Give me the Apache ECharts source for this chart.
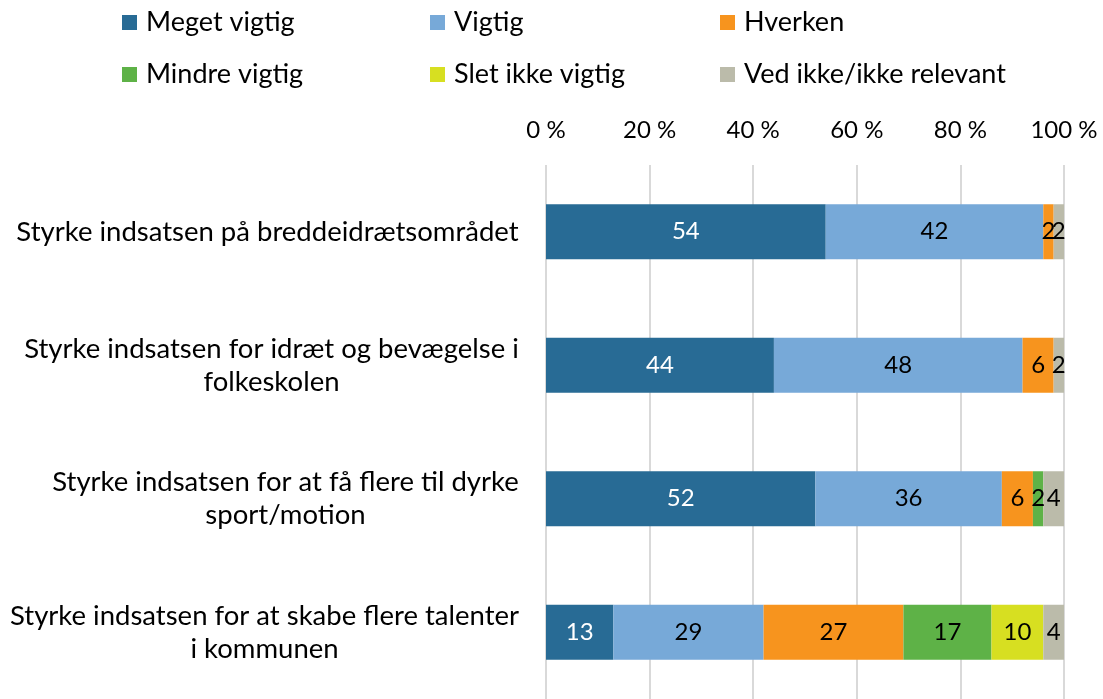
<!DOCTYPE html>
<html>
<head>
<meta charset="utf-8">
<script src="https://cdn.jsdelivr.net/npm/echarts@6/dist/echarts.min.js"></script>
<style>
html,body{margin:0;padding:0;background:#fff;}
#chart{width:1103px;height:699px;}
</style>
</head>
<body>
<div id="chart"></div>
<script>
const categories = [
  ['Styrke indsatsen på breddeidrætsområdet'],
  ['Styrke indsatsen for idræt og bevægelse i', 'folkeskolen'],
  ['Styrke indsatsen for at få flere til dyrke', 'sport/motion'],
  ['Styrke indsatsen for at skabe flere talenter', 'i kommunen']
];
const seriesNames = ['Meget vigtig', 'Vigtig', 'Hverken', 'Mindre vigtig', 'Slet ikke vigtig', 'Ved ikke/ikke relevant'];
const megetVigtig = [54, 44, 52, 13];
const vigtig = [42, 48, 36, 29];
const hverken = [2, 6, 6, 27];
const mindreVigtig = [0, 0, 2, 17];
const sletIkkeVigtig = [0, 0, 0, 10];
const vedIkke = [2, 2, 4, 4];
const xTicks = [0, 20, 40, 60, 80, 100];

const seriesValues = [megetVigtig, vigtig, hverken, mindreVigtig, sletIkkeVigtig, vedIkke];
const colors = ['#286B95', '#77A9D8', '#F7941E', '#5EB247', '#D7DF21', '#BBBBAA'];
const labelColors = ['#ffffff', '#000000', '#000000', '#000000', '#000000', '#000000'];

const FONT = 'Lato';
const CAT_FS = 27.5;
const LEG_FS = 27;
const TICK_FS = 24;
const VAL_FS = 24;

// measure category widths for centered wrapped lines
const cv = document.createElement('canvas').getContext('2d');
cv.font = CAT_FS + 'px ' + FONT;
const rich = {};
categories.forEach((lines, i) => {
  const w = Math.max(...lines.map(l => cv.measureText(l).width));
  rich['w' + i] = {width: Math.ceil(w), align: 'center', fontFamily: FONT, fontSize: CAT_FS, color: '#000', lineHeight: 33};
});

const chart = echarts.init(document.getElementById('chart'));

const legendPos = [[117, 4], [425, 4], [715, 4], [117, 56], [425, 56], [715, 56]];
const legends = seriesNames.map((n, i) => ({
  data: [n],
  left: legendPos[i][0],
  top: legendPos[i][1],
  itemWidth: 15,
  itemHeight: 15,
  itemGap: 0,
  icon: 'rect',
  textStyle: {fontFamily: FONT, fontSize: LEG_FS, color: '#000', padding: [0, 0, 0, 4]}
}));

chart.setOption({
  animation: false,
  textStyle: {fontFamily: FONT},
  legend: legends,
  grid: {left: 546, right: 39, top: 165, bottom: 0, containLabel: false},
  xAxis: {
    type: 'value',
    position: 'top',
    min: 0, max: 100, interval: 20,
    axisLine: {show: false},
    axisTick: {show: false},
    splitLine: {show: true, lineStyle: {color: '#D9D9D9', width: 2}},
    axisLabel: {
      margin: 23,
      fontFamily: FONT, fontSize: TICK_FS, color: '#000',
      formatter: v => xTicks.includes(v) ? v + ' %' : ''
    }
  },
  yAxis: {
    type: 'category',
    inverse: true,
    data: categories.map(c => c.join('\n')),
    axisLine: {show: false},
    axisTick: {show: false},
    axisLabel: {
      margin: 27,
      align: 'right',
      formatter: (v, idx) => v.split('\n').map(l => '{w' + idx + '|' + l + '}').join('\n'),
      rich: rich
    }
  },
  series: seriesNames.map((n, i) => ({
    name: n,
    type: 'bar',
    stack: 'total',
    barWidth: 55,
    data: seriesValues[i],
    itemStyle: {color: colors[i]},
    label: {
      show: true,
      position: 'inside',
      fontFamily: FONT,
      fontSize: VAL_FS,
      color: labelColors[i],
      formatter: p => p.value === 0 ? '' : String(p.value)
    }
  }))
});
</script>
</body>
</html>
